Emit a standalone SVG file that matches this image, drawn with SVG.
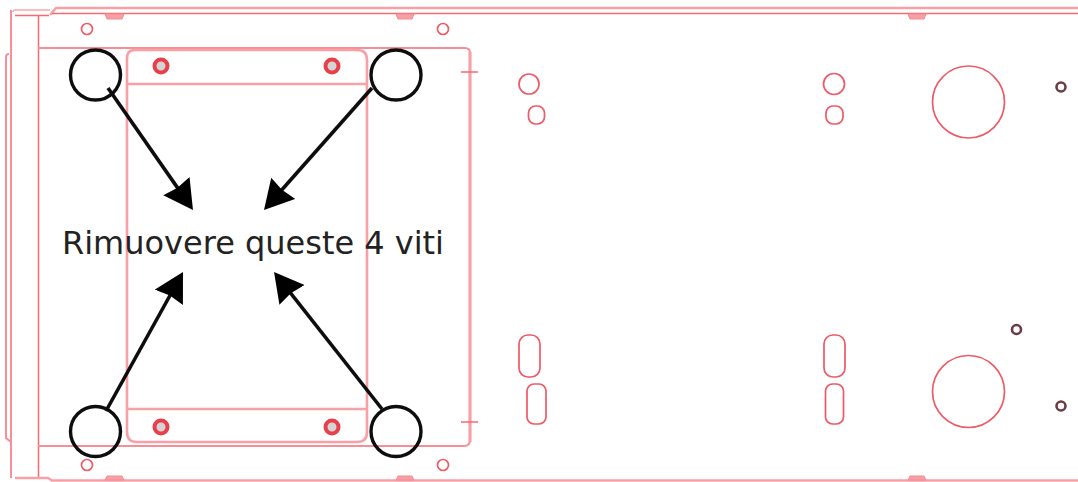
<svg xmlns="http://www.w3.org/2000/svg" width="1078" height="482" viewBox="0 0 1078 482">
<defs>
<filter id="soft" x="-5%" y="-5%" width="110%" height="110%"><feGaussianBlur stdDeviation="0.55"/></filter>
<style>
.p{fill:none;stroke:#f66a72;stroke-width:1.5}
.l{fill:none;stroke:#f9a0a6;stroke-width:2.6}
.n{fill:none;stroke:#f9a8ac;stroke-width:1.5}
.m{fill:none;stroke:#f88f96;stroke-width:2}
.t{fill:#f6a0a6;stroke:#f58a92;stroke-width:1}
.h{fill:#fff;stroke:#ee5a66;stroke-width:1.7}
.s{fill:#d4d4d4;stroke:#e8404c;stroke-width:4}
.d{fill:#fff;stroke:#6b3c44;stroke-width:2.6}
.c{fill:none;stroke:#111;stroke-width:3.4}
.a{stroke:#111;stroke-width:3.6;fill:none;marker-end:url(#ah)}
text{font-family:"DejaVu Sans",Verdana,sans-serif;font-size:32px;fill:#222}
</style>
<marker id="ah" markerUnits="userSpaceOnUse" markerWidth="32" markerHeight="34" refX="21" refY="16" orient="auto"><path d="M0 0L29 16L0 32L2 16Z" fill="#000"/></marker>
</defs>
<rect width="1078" height="482" fill="#fff"/>
<g id="frame" filter="url(#soft)">
<path class="l" d="M50 15L56 8H1078"/>
<path class="p" d="M52 13.500H1078"/>
<path class="n" d="M13 12Q13 10 15 10H50"/>
<path class="p" d="M15 15.500H49"/>
<path class="m" d="M11 10V478"/>
<path class="m" d="M6 57Q6 54 9 54M6 57V438L11 442"/>
<path class="p" d="M38.500 16V477"/>
<path class="l" d="M15 478H48L52 480.500H1078"/>
<path class="m" d="M38 48H465Q470 48 470 53"/>
<path class="m" d="M38 446H464Q470 446 470 440"/>
<path class="l" d="M470 52V442" style="stroke-width:3.200"/>
<path class="l" d="M127 58Q127 50 135 50H357Q367 50 367 60V432Q367 442 357 442H137Q127 442 127 432Z"/>
<path class="l" d="M128 84H366M128 409H366"/>
<path class="p" d="M461 72H478M461 422H478"/>
<path class="t" d="M105 14H124L122 19H107ZM396 14H414L412 19H398ZM908 14H926L924 19H910ZM105 480L107 476H122L124 480ZM396 480L398 476H412L414 480ZM908 480L910 476H924L926 480Z"/>
</g>
<g id="holes" filter="url(#soft)">
<circle class="h" cx="87" cy="29" r="5.500"/><circle class="h" cx="443" cy="29" r="5.500"/>
<circle class="h" cx="87" cy="465" r="5.500"/><circle class="h" cx="443" cy="465" r="5.500"/>
<circle class="s" cx="161" cy="66" r="6.500"/><circle class="s" cx="332" cy="66" r="6.500"/>
<circle class="s" cx="161" cy="427" r="6.500"/><circle class="s" cx="332" cy="427" r="6.500"/>
<circle class="h" cx="529" cy="84" r="10"/><rect class="h" x="528.500" y="106" width="16" height="18" rx="7"/>
<circle class="h" cx="834" cy="84" r="10.500"/><rect class="h" x="826" y="106" width="17" height="18" rx="7"/>
<circle class="h" cx="968.500" cy="102" r="36"/><circle class="h" cx="968.500" cy="391.500" r="36"/>
<rect class="h" x="519" y="335" width="21" height="42" rx="9"/><rect class="h" x="527" y="384" width="19" height="40" rx="7"/>
<rect class="h" x="824" y="335" width="21" height="42" rx="9"/><rect class="h" x="825.500" y="384" width="18" height="40" rx="7"/>
<circle class="d" cx="1061" cy="87" r="4.500"/><circle class="d" cx="1061" cy="406" r="4.500"/><circle class="d" cx="1016.500" cy="329.500" r="4.500"/>
</g>
<g id="screw-tl" filter="url(#soft)"><circle class="c" cx="95.500" cy="75" r="25"/></g>
<g id="screw-tr" filter="url(#soft)"><circle class="c" cx="396" cy="75" r="25"/></g>
<g id="screw-bl" filter="url(#soft)"><circle class="c" cx="95.500" cy="431.500" r="25"/></g>
<g id="screw-br" filter="url(#soft)"><circle class="c" cx="396" cy="431.500" r="25"/></g>
<g id="connectors" filter="url(#soft)">
<line class="a" x1="108" y1="88" x2="188.400" y2="203.400"/>
<line class="a" x1="372" y1="88" x2="269.300" y2="204"/>
<line class="a" x1="106" y1="411" x2="179.100" y2="279"/>
<line class="a" x1="382" y1="409" x2="279" y2="278.300"/>
</g>
<g id="label"><text x="62" y="254" textLength="382" lengthAdjust="spacingAndGlyphs">Rimuovere queste 4 viti</text></g>
</svg>
